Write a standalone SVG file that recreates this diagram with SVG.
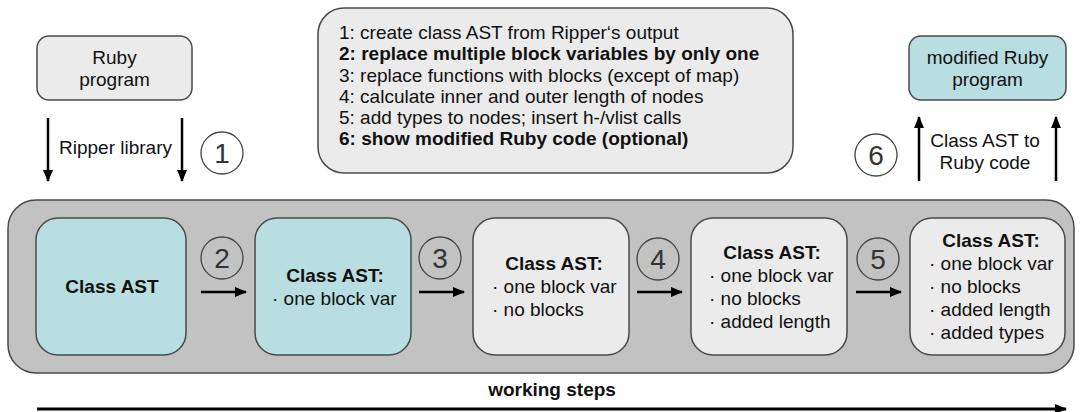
<svg xmlns="http://www.w3.org/2000/svg" width="1081" height="412" viewBox="0 0 1081 412">
<style>
text{font-family:"Liberation Sans",Arial,sans-serif;fill:#111}
.t{font-size:19px}
.b{font-size:19px;font-weight:bold}
.num{font-size:28px;fill:#333;text-anchor:middle}
.c{text-anchor:middle}
.box{stroke:#4a4a4a;stroke-width:1.5}
.teal{fill:#b8dee2}
.lg{fill:#ebebeb}
.circ{fill:none;stroke:#444;stroke-width:1.3}
.circw{fill:#fff;stroke:#444;stroke-width:1.3}
.arr{stroke:#000;stroke-width:2.5;fill:none;marker-end:url(#ah)}
</style>
<defs>
<marker id="ah" markerUnits="userSpaceOnUse" markerWidth="12" markerHeight="10" refX="11" refY="5" orient="auto">
<path d="M0,0 L12,5 L0,10 z" fill="#000"/>
</marker>
</defs>
<rect width="1081" height="412" fill="#fff"/>

<g id="container">
<rect x="8" y="200" width="1066" height="173" rx="28" fill="#c2c2c2" class="box"/>
</g>

<g id="ruby-program">
<rect x="37" y="36" width="155" height="64" rx="12" class="box lg"/>
<text class="t c" x="114.5" y="64">Ruby</text>
<text class="t c" x="114.5" y="86">program</text>
</g>

<g id="steps-list">
<rect x="318" y="8" width="475" height="165" rx="26" class="box lg"/>
<text class="t" x="339" y="39">1: create class AST from Ripper‘s output</text>
<text class="b" x="339" y="60">2: replace multiple block variables by only one</text>
<text class="t" x="339" y="81.5">3: replace functions with blocks (except of map)</text>
<text class="t" x="339" y="102.5">4: calculate inner and outer length of nodes</text>
<text class="t" x="339" y="124">5: add types to nodes; insert h-/vlist calls</text>
<text class="b" x="339" y="145">6: show modified Ruby code (optional)</text>
</g>

<g id="modified-ruby-program">
<rect x="909" y="36" width="157" height="64" rx="12" class="box teal"/>
<text class="t c" x="987.5" y="64">modified Ruby</text>
<text class="t c" x="987.5" y="86">program</text>
</g>

<g id="node-1">
<rect x="36" y="218" width="150" height="137" rx="22" class="box teal"/>
<text class="b c" x="112" y="293">Class AST</text>
</g>
<g id="node-2">
<rect x="255" y="218" width="156" height="137" rx="22" class="box teal"/>
<text class="b c" x="335" y="282">Class AST:</text>
<text class="t" x="272" y="305">· one block var</text>
</g>
<g id="node-3">
<rect x="473" y="218" width="156" height="137" rx="22" class="box lg"/>
<text class="b c" x="554" y="270">Class AST:</text>
<text class="t" x="492" y="293">· one block var</text>
<text class="t" x="492" y="316">· no blocks</text>
</g>
<g id="node-4">
<rect x="691" y="218" width="156" height="137" rx="22" class="box lg"/>
<text class="b c" x="772" y="258.5">Class AST:</text>
<text class="t" x="709" y="281.5">· one block var</text>
<text class="t" x="709" y="304.5">· no blocks</text>
<text class="t" x="709" y="327.5">· added length</text>
</g>
<g id="node-5">
<rect x="910" y="218" width="155" height="137" rx="22" class="box lg"/>
<text class="b c" x="991" y="247">Class AST:</text>
<text class="t" x="929" y="270">· one block var</text>
<text class="t" x="929" y="293">· no blocks</text>
<text class="t" x="929" y="316">· added length</text>
<text class="t" x="929" y="339">· added types</text>
</g>

<g id="step-markers">
<circle cx="222" cy="153" r="21" class="circw"/><text class="num" x="222" y="163">1</text>
<circle cx="222" cy="258" r="21" class="circ"/><text class="num" x="222" y="268">2</text>
<circle cx="440" cy="258" r="21" class="circ"/><text class="num" x="440" y="268">3</text>
<circle cx="658" cy="259" r="21" class="circ"/><text class="num" x="658" y="269">4</text>
<circle cx="878" cy="259" r="21" class="circ"/><text class="num" x="878" y="269">5</text>
<circle cx="876" cy="155" r="21" class="circw"/><text class="num" x="876" y="165">6</text>
</g>

<g id="connectors">
<line x1="48" y1="118" x2="48" y2="181" class="arr"/>
<line x1="182" y1="118" x2="182" y2="181" class="arr"/>
<text class="t c" x="115.5" y="154">Ripper library</text>
<line x1="919" y1="181" x2="919" y2="117" class="arr"/>
<line x1="1056" y1="181" x2="1056" y2="117" class="arr"/>
<text class="t c" x="985" y="147">Class AST to</text>
<text class="t c" x="985" y="169">Ruby code</text>
<line x1="201" y1="292" x2="246" y2="292" class="arr"/>
<line x1="419" y1="292" x2="464" y2="292" class="arr"/>
<line x1="637" y1="292" x2="682" y2="292" class="arr"/>
<line x1="856" y1="292" x2="901" y2="292" class="arr"/>
<line x1="37" y1="409" x2="1066" y2="409" style="stroke:#000;stroke-width:3;marker-end:url(#ah)"/>
<text class="b c" x="552" y="396">working steps</text>
</g>
</svg>
